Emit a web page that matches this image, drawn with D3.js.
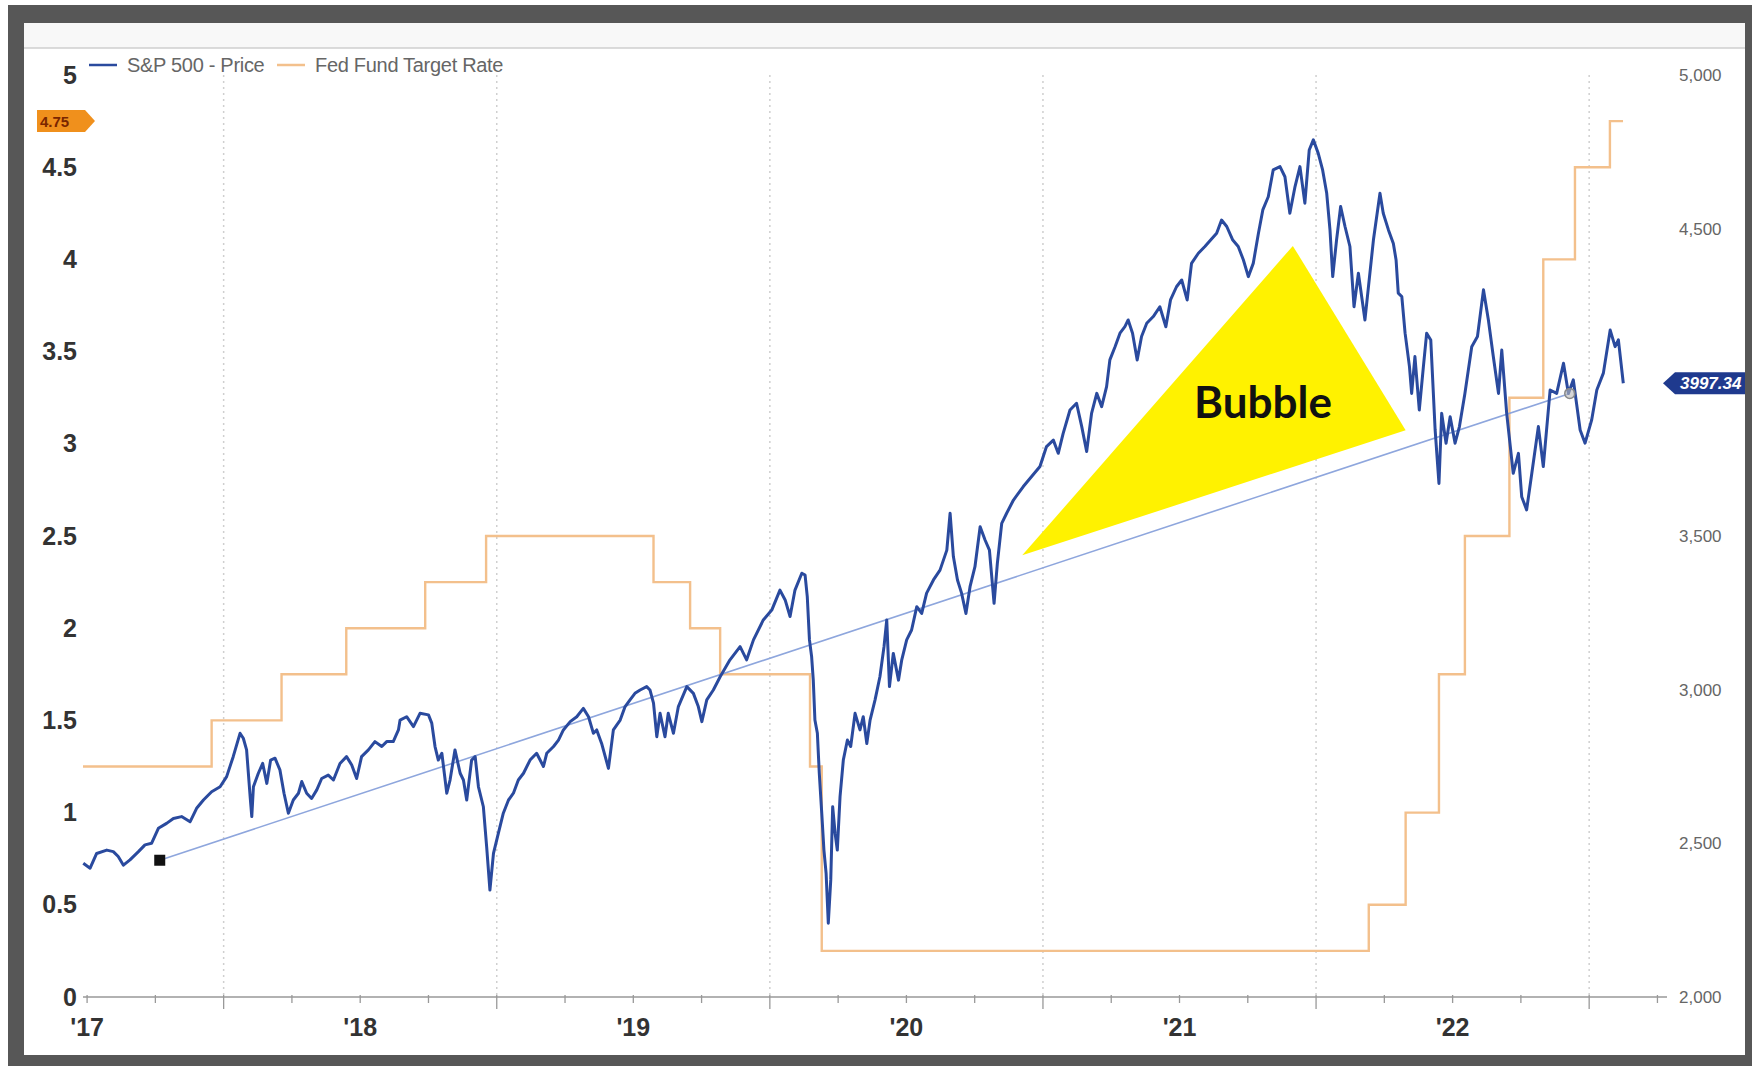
<!DOCTYPE html>
<html>
<head>
<meta charset="utf-8">
<script src="https://cdn.jsdelivr.net/npm/d3@7/dist/d3.min.js"></script>
<style>
  body { margin: 0; background: #fff; }
  svg { display: block; font-family: 'Liberation Sans', Arial, sans-serif; }
</style>
</head>
<body>
<div class="line-chart-container"></div>
<script>
// S&P 500 收盤 (x = 小數年份, 依圖上讀值)
const spxYears = [
  2016.986, 2017.011, 2017.035, 2017.072, 2017.096, 2017.114, 2017.133, 2017.157, 2017.188, 2017.212,
  2017.236, 2017.261, 2017.291, 2017.316, 2017.346, 2017.377, 2017.401, 2017.426, 2017.456, 2017.487,
  2017.511, 2017.535, 2017.560, 2017.572, 2017.584, 2017.597, 2017.603, 2017.609, 2017.627, 2017.643,
  2017.658, 2017.672, 2017.688, 2017.706, 2017.721, 2017.737, 2017.755, 2017.774, 2017.786, 2017.804,
  2017.822, 2017.841, 2017.859, 2017.883, 2017.902, 2017.926, 2017.950, 2017.969, 2017.987, 2018.005,
  2018.030, 2018.054, 2018.079, 2018.097, 2018.121, 2018.140,
  2018.146, 2018.170, 2018.195, 2018.219, 2018.250, 2018.262, 2018.274, 2018.286, 2018.299, 2018.317,
  2018.329, 2018.347, 2018.366, 2018.378, 2018.390, 2018.408, 2018.421, 2018.433, 2018.451, 2018.463,
  2018.475, 2018.488, 2018.506, 2018.524, 2018.543, 2018.561, 2018.579, 2018.598, 2018.622, 2018.646,
  2018.671, 2018.683, 2018.708, 2018.726, 2018.744, 2018.769, 2018.793, 2018.817, 2018.836, 2018.854,
  2018.866, 2018.884, 2018.909, 2018.927, 2018.952, 2018.970, 2018.988, 2019.006, 2019.025, 2019.049,
  2019.061, 2019.074, 2019.086, 2019.098, 2019.116, 2019.128, 2019.147, 2019.165, 2019.196, 2019.220,
  2019.238, 2019.251, 2019.269, 2019.293, 2019.318,
  2019.354, 2019.391, 2019.415, 2019.440, 2019.476, 2019.507, 2019.537, 2019.556, 2019.574, 2019.592,
  2019.617, 2019.629, 2019.637, 2019.645, 2019.653, 2019.659, 2019.665, 2019.674, 2019.681, 2019.690,
  2019.698, 2019.706, 2019.714, 2019.723, 2019.730, 2019.739, 2019.747, 2019.757, 2019.769, 2019.784,
  2019.796, 2019.812, 2019.830, 2019.842, 2019.855, 2019.867, 2019.885, 2019.903, 2019.918, 2019.928,
  2019.938, 2019.952, 2019.971, 2019.983, 2020.001, 2020.019, 2020.038, 2020.056, 2020.074, 2020.099,
  2020.123, 2020.148, 2020.160, 2020.172, 2020.187, 2020.202, 2020.218, 2020.233, 2020.251, 2020.270,
  2020.288, 2020.304, 2020.321, 2020.333, 2020.349, 2020.367, 2020.392, 2020.428,
  2020.489, 2020.513, 2020.538, 2020.556, 2020.574, 2020.599, 2020.623, 2020.642, 2020.660, 2020.678,
  2020.697, 2020.715, 2020.733, 2020.745, 2020.764, 2020.782, 2020.800, 2020.812, 2020.828, 2020.845,
  2020.861, 2020.880, 2020.904, 2020.928, 2020.950, 2020.967, 2020.989, 2021.008, 2021.028, 2021.044,
  2021.069, 2021.093, 2021.114, 2021.136, 2021.154, 2021.173, 2021.195, 2021.215, 2021.234, 2021.252,
  2021.270, 2021.289, 2021.305, 2021.325, 2021.343, 2021.368, 2021.386, 2021.404, 2021.423, 2021.441,
  2021.459, 2021.475, 2021.490, 2021.508, 2021.524, 2021.539, 2021.551, 2021.561, 2021.575, 2021.590,
  2021.606, 2021.624, 2021.639, 2021.655,
  2021.679, 2021.710, 2021.734, 2021.746, 2021.765, 2021.783, 2021.793, 2021.801, 2021.814, 2021.826,
  2021.842, 2021.850, 2021.862, 2021.878, 2021.893, 2021.905, 2021.920, 2021.936, 2021.950, 2021.960,
  2021.976, 2021.991, 2022.009, 2022.025, 2022.045, 2022.070, 2022.091, 2022.113, 2022.131, 2022.149,
  2022.168, 2022.180, 2022.198, 2022.222, 2022.241, 2022.253, 2022.271, 2022.290, 2022.314, 2022.332,
  2022.357, 2022.381, 2022.406, 2022.424, 2022.442, 2022.467, 2022.485, 2022.509, 2022.528, 2022.552,
  2022.577, 2022.595, 2022.607, 2022.625
];
const spxClose = [
  2435, 2419, 2467, 2478, 2473, 2457, 2429, 2446, 2473, 2495,
  2500, 2549, 2565, 2581, 2587, 2570, 2614, 2641, 2668, 2684,
  2717, 2782, 2858, 2842, 2804, 2652, 2587, 2684, 2728, 2760,
  2695, 2771, 2777, 2739, 2663, 2598, 2641, 2663, 2701, 2663,
  2646, 2674, 2711, 2722, 2706, 2760, 2782, 2755, 2711, 2782,
  2804, 2831, 2815, 2831, 2831, 2869,
  2901, 2912, 2880, 2923, 2918, 2891, 2815, 2771, 2793, 2663,
  2706, 2804, 2728, 2706, 2641, 2771, 2782, 2684, 2619, 2489,
  2348, 2467, 2533, 2598, 2641, 2663, 2706, 2728, 2771, 2793,
  2750, 2793, 2815, 2836, 2869, 2896, 2912, 2939, 2912, 2858,
  2869, 2825, 2744, 2869, 2901, 2945, 2967, 2988, 2999, 3010,
  2999, 2956, 2847, 2923, 2847, 2923, 2858, 2945, 3010, 2988,
  2945, 2896, 2967, 2999, 3042,
  3097, 3140, 3097, 3162, 3227, 3259, 3324, 3292, 3238, 3324,
  3379, 3373, 3303, 3162, 3107, 3031, 2901, 2858, 2728, 2598,
  2478, 2402, 2240, 2381, 2619, 2532, 2478, 2652, 2771, 2836,
  2815, 2923, 2869, 2912, 2825, 2901, 2966, 3042, 3140, 3227,
  3010, 3118, 3031, 3097, 3162, 3194, 3270, 3248, 3314, 3357,
  3389, 3454, 3574, 3433, 3357, 3314, 3248, 3335, 3400, 3530,
  3487, 3454, 3281, 3411, 3541, 3574, 3617, 3661,
  3726, 3791, 3812, 3769, 3834, 3910, 3932, 3856, 3775, 3899,
  3964, 3921, 3986, 4073, 4116, 4160, 4181, 4203, 4160, 4073,
  4149, 4192, 4214, 4246, 4181, 4268, 4311, 4333, 4268, 4387,
  4420, 4442, 4463, 4485, 4528, 4507, 4463, 4442, 4398, 4344,
  4387, 4485, 4561, 4604, 4691, 4702, 4669, 4550, 4637, 4702,
  4583, 4756, 4789, 4745, 4691, 4615, 4496, 4344, 4463, 4572,
  4507, 4442, 4246, 4355,
  4203, 4463, 4615, 4550, 4496, 4452, 4398, 4290, 4279, 4160,
  4051, 3964, 4084, 3910, 4051, 4160, 4138, 3845, 3671, 3899,
  3802, 3888, 3802, 3856, 3964, 4116, 4149, 4301, 4203, 4084,
  3964, 4105, 3899, 3704, 3769, 3628, 3585, 3704, 3856, 3726,
  3975, 3964, 4062, 3964, 4008, 3845, 3802, 3877, 3975, 4030,
  4170, 4116, 4138, 3997
];

// Fed Fund Target Rate (階梯)
const fedYears = [2016.985, 2017.456, 2017.712, 2017.949, 2018.238, 2018.461, 2019.074, 2019.208, 2019.318, 2019.647,
                  2019.690, 2021.693, 2021.828, 2021.950, 2022.045, 2022.208, 2022.332, 2022.448, 2022.576, 2022.624];
const fedRates = [1.25, 1.5, 1.75, 2.0, 2.25, 2.5, 2.25, 2.0, 1.75, 1.25,
                  0.25, 0.5, 1.0, 1.75, 2.5, 3.25, 4.0, 4.5, 4.75, 4.75];

// 趨勢線 & Bubble 三角形
const trendYears = [2017.266, 2022.429];
const trendValues = [2445, 3964];
const bubbleYears = [2020.424, 2021.415, 2021.828];
const bubbleValues = [3437, 4444, 3844];

// 刻度 (4,000 被最後價格標籤蓋住)
const rateTicks = [0, 0.5, 1, 1.5, 2, 2.5, 3, 3.5, 4, 4.5, 5];
const priceTicks = [2000, 2500, 3000, 3500, 4500, 5000];
const yearTicks = [2017, 2018, 2019, 2020, 2021, 2022];
const yearLabels = ["'17", "'18", "'19", "'20", "'21", "'22"];
const lastPrice = 3997.34;
const lastRate = 4.75;

const SPX_COLOR = '#2a4a9e';
const FED_COLOR = '#f3c08c';
const FRAME_COLOR = '#575757';

function setupCanvas() {
    const svg_width = 1752;
    const svg_height = 1066;
    const plot = { left: 83, right: 1667, top: 75, bottom: 997 };

    const svg = d3.select('.line-chart-container')
        .append('svg')
        .attr('width', svg_width).attr('height', svg_height);

    // 外框
    svg.append('rect').attr('width', svg_width).attr('height', svg_height).attr('fill', '#fff');
    svg.append('rect').attr('x', 8).attr('y', 5).attr('width', svg_width - 8).attr('height', svg_height - 5)
        .attr('fill', FRAME_COLOR);
    svg.append('rect').attr('x', 24).attr('y', 23).attr('width', 1721).attr('height', 1032).attr('fill', '#fff');
    svg.append('rect').attr('x', 24).attr('y', 23).attr('width', 1721).attr('height', 25).attr('fill', '#f8f8f8');
    svg.append('line').attr('x1', 24).attr('x2', 1745).attr('y1', 48).attr('y2', 48)
        .attr('stroke', '#cfcfcf').attr('stroke-width', 1.5);

    // scales
    const xScale = d3.scaleLinear().domain([2016.985, 2022.785]).range([plot.left, plot.right]);
    const yRate = d3.scaleLinear().domain([0, 5]).range([plot.bottom, plot.top]);
    const yPrice = d3.scaleLinear().domain([2000, 5000]).range([plot.bottom, plot.top]);

    // 半年格線 (dotted)
    const halfYears = yearTicks.map(y => y + 0.5);
    svg.append('g').attr('class', 'grid')
        .selectAll('line').data(halfYears).enter()
        .append('line')
        .attr('x1', d => xScale(d)).attr('x2', d => xScale(d))
        .attr('y1', plot.top).attr('y2', plot.bottom)
        .attr('stroke', '#cfcfcf').attr('stroke-width', 1.5)
        .attr('stroke-dasharray', '2,4');

    // 左軸 (rate)
    svg.append('g')
        .attr('transform', `translate(${plot.left},0)`)
        .call(d3.axisLeft(yRate).tickValues(rateTicks).tickSize(0).tickPadding(6).tickFormat(d3.format('')))
        .call(g => g.select('.domain').remove())
        .attr('font-family', null)
        .selectAll('text')
            .style('font-size', '25px').style('font-weight', 'bold').style('fill', '#333');

    // 右軸 (price)
    svg.append('g')
        .attr('transform', `translate(${plot.right},0)`)
        .call(d3.axisRight(yPrice).tickValues(priceTicks).tickSize(0).tickPadding(12).tickFormat(d3.format(',')))
        .call(g => g.select('.domain').remove())
        .attr('font-family', null)
        .selectAll('text')
            .style('font-size', '17px').style('fill', '#666');

    // X 軸
    const xAxis = svg.append('g').attr('class', 'x axis');
    xAxis.append('line')
        .attr('x1', plot.left).attr('x2', plot.right)
        .attr('y1', plot.bottom).attr('y2', plot.bottom)
        .attr('stroke', '#999').attr('stroke-width', 1.5);
    const quarterTicks = [];
    yearTicks.forEach(y => [0, 0.25, 0.5, 0.75].forEach(q => quarterTicks.push(y + q)));
    xAxis.selectAll('.qtick').data(quarterTicks).enter()
        .append('line')
        .attr('class', 'qtick')
        .attr('x1', d => xScale(d)).attr('x2', d => xScale(d))
        .attr('y1', plot.bottom - 2)
        .attr('y2', d => plot.bottom + (d % 1 === 0.5 ? 12 : 6))
        .attr('stroke', '#999').attr('stroke-width', 1.3);
    xAxis.selectAll('.ylabel').data(yearTicks).enter()
        .append('text')
        .attr('x', d => xScale(d)).attr('y', 1036)
        .attr('text-anchor', 'middle')
        .style('font-size', '25px').style('font-weight', 'bold').style('fill', '#333')
        .text((d, i) => yearLabels[i]);

    // Fed 階梯線
    const fedLine = d3.line()
        .x(d => xScale(d[0])).y(d => yRate(d[1]))
        .curve(d3.curveStepAfter);
    svg.append('path')
        .attr('d', fedLine(fedYears.map((y, i) => [y, fedRates[i]])))
        .attr('fill', 'none').attr('stroke', FED_COLOR).attr('stroke-width', 2.4);

    // 趨勢線
    const priceLine = d3.line().x(d => xScale(d[0])).y(d => yPrice(d[1]));
    svg.append('path')
        .attr('d', priceLine(trendYears.map((y, i) => [y, trendValues[i]])))
        .attr('fill', 'none').attr('stroke', '#8ea6dd').attr('stroke-width', 1.6);

    // S&P 500
    svg.append('path')
        .attr('d', priceLine(spxYears.map((y, i) => [y, spxClose[i]])))
        .attr('fill', 'none').attr('stroke', SPX_COLOR)
        .attr('stroke-width', 3).attr('stroke-linejoin', 'round');

    // 趨勢線端點
    svg.append('rect')
        .attr('x', xScale(trendYears[0]) - 5.5).attr('y', yPrice(trendValues[0]) - 5.5)
        .attr('width', 11).attr('height', 11).attr('fill', '#111');
    svg.append('circle')
        .attr('cx', xScale(trendYears[1])).attr('cy', yPrice(trendValues[1])).attr('r', 5)
        .attr('fill', '#bbb').attr('fill-opacity', 0.6).attr('stroke', '#888').attr('stroke-width', 1.5);

    // Bubble 三角形
    svg.append('path')
        .attr('d', d3.line()(bubbleYears.map((y, i) => [xScale(y), yPrice(bubbleValues[i])])) + 'Z')
        .attr('fill', '#fff200');
    svg.append('text')
        .attr('x', 1263).attr('y', 418)
        .attr('text-anchor', 'middle')
        .style('font-family', 'Lato, "Open Sans", sans-serif')
        .style('font-size', '44px').style('font-weight', 'bold').style('fill', '#111')
        .text('Bubble');

    // 左側 4.75 標籤
    const ry = yRate(lastRate);
    svg.append('path')
        .attr('d', `M37,${ry - 11}L85,${ry - 11}L95,${ry}L85,${ry + 11}L37,${ry + 11}Z`)
        .attr('fill', '#f0901c');
    svg.append('text')
        .attr('x', 40).attr('y', ry).attr('dominant-baseline', 'central')
        .style('font-size', '15px').style('font-weight', 'bold').style('fill', '#7a2600')
        .text(lastRate.toFixed(2));

    // 右側最後價格標籤
    const py = yPrice(lastPrice);
    svg.append('path')
        .attr('d', `M1663,${py}L1675,${py - 11}L1752,${py - 11}L1752,${py + 11}L1675,${py + 11}Z`)
        .attr('fill', '#1f3a8e');
    svg.append('text')
        .attr('x', 1680).attr('y', py).attr('dominant-baseline', 'central')
        .style('font-size', '17px').style('font-style', 'italic').style('font-weight', 'bold').style('fill', '#fff')
        .text(lastPrice.toFixed(2));
    // 右框蓋住標籤尾端
    svg.append('rect').attr('x', 1745).attr('y', 5).attr('width', 7).attr('height', svg_height - 5)
        .attr('fill', FRAME_COLOR);

    // legend
    const legend = svg.append('g').attr('class', 'legend');
    const items = [
        { name: 'S&P 500 - Price', color: SPX_COLOR, x: 89 },
        { name: 'Fed Fund Target Rate', color: FED_COLOR, x: 277 }
    ];
    items.forEach(it => {
        legend.append('line')
            .attr('x1', it.x).attr('x2', it.x + 28).attr('y1', 65).attr('y2', 65)
            .attr('stroke', it.color).attr('stroke-width', 2.5);
        legend.append('text')
            .attr('x', it.x + 38).attr('y', 65).attr('dominant-baseline', 'central')
            .style('font-size', '20px').style('fill', '#666').style('letter-spacing', '-0.3px')
            .text(it.name);
    });
}

setupCanvas();
</script>
</body>
</html>
